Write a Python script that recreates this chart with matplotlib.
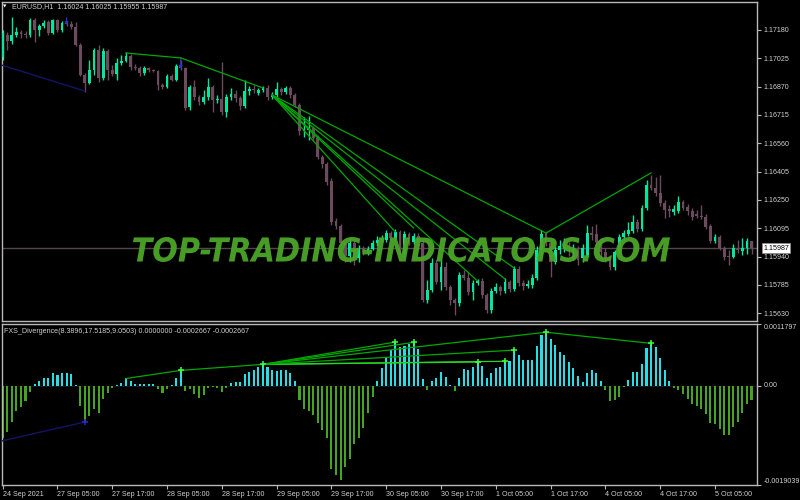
#!/usr/bin/env python3
"""
EURUSD H1 candles with the FXS_Divergence histogram underneath,
drawn in the black MetaTrader look.
"""

import numpy as np
import matplotlib
matplotlib.use("Agg")
import matplotlib.pyplot as plt
from matplotlib.textpath import TextPath
from matplotlib.patches import PathPatch
from matplotlib.font_manager import FontProperties
from matplotlib.transforms import Affine2D, blended_transform_factory


# ---- price data (H1 bars, oldest first) ----
OPEN = [
    1.17032, 1.17153, 1.17120, 1.17153, 1.17169, 1.17158, 1.17153, 1.17235, 1.17180, 1.17202,
    1.17224, 1.17163, 1.17235, 1.17180, 1.17218, 1.17213, 1.17196, 1.17098, 1.16934, 1.16890,
    1.16961, 1.17070, 1.16917, 1.17065, 1.16961, 1.16939, 1.16999, 1.17010, 1.17038, 1.16978,
    1.16972, 1.16945, 1.16972, 1.16961, 1.16956, 1.16879, 1.16868, 1.16928, 1.16906, 1.16983,
    1.16972, 1.16758, 1.16868, 1.16813, 1.16786, 1.16813, 1.16868, 1.16797, 1.16802, 1.16731,
    1.16813, 1.16830, 1.16808, 1.16764, 1.16846, 1.16857, 1.16835, 1.16852, 1.16863, 1.16813,
    1.16824, 1.16857, 1.16841, 1.16863, 1.16824, 1.16769, 1.16628, 1.16633, 1.16644, 1.16589,
    1.16485, 1.16447, 1.16354, 1.16135, 1.16108, 1.16015, 1.15944, 1.16015, 1.15933, 1.15987,
    1.15960, 1.15982, 1.16015, 1.16031, 1.16031, 1.16069, 1.16031, 1.16075, 1.15955, 1.16064,
    1.16020, 1.16053, 1.16015, 1.15703, 1.15758, 1.15905, 1.15801, 1.15884, 1.15774, 1.15703,
    1.15687, 1.15840, 1.15823, 1.15747, 1.15796, 1.15807, 1.15730, 1.15649, 1.15752, 1.15774,
    1.15752, 1.15801, 1.15763, 1.15873, 1.15796, 1.15779, 1.15785, 1.15823, 1.15976, 1.16064,
    1.16015, 1.15911, 1.15976, 1.15987, 1.16004, 1.15976, 1.15987, 1.15933, 1.15938, 1.16069,
    1.16064, 1.16020, 1.15965, 1.15933, 1.15884, 1.15965, 1.16047, 1.16064, 1.16080, 1.16130,
    1.16091, 1.16206, 1.16332, 1.16315, 1.16288, 1.16234, 1.16201, 1.16184, 1.16190, 1.16239,
    1.16212, 1.16190, 1.16173, 1.16162, 1.16157, 1.16108, 1.16025, 1.16047, 1.15987, 1.15944,
    1.15938, 1.15982, 1.15971, 1.15987, 1.16024,
]
HIGH = [
    1.17180, 1.17169, 1.17251, 1.17196, 1.17180, 1.17174, 1.17246, 1.17246, 1.17213, 1.17235,
    1.17235, 1.17240, 1.17240, 1.17229, 1.17229, 1.17229, 1.17224, 1.17109, 1.16945, 1.17016,
    1.17081, 1.17098, 1.17081, 1.17076, 1.16988, 1.17027, 1.17043, 1.17060, 1.17049, 1.16994,
    1.16983, 1.16983, 1.16978, 1.16967, 1.16961, 1.16890, 1.16939, 1.16939, 1.16994, 1.17016,
    1.16978, 1.16879, 1.16906, 1.16824, 1.16852, 1.16917, 1.16879, 1.16824, 1.17005, 1.16830,
    1.16863, 1.16852, 1.16819, 1.16906, 1.16874, 1.16879, 1.16863, 1.16874, 1.16879, 1.16841,
    1.16895, 1.16868, 1.16874, 1.16874, 1.16835, 1.16780, 1.16704, 1.16709, 1.16655, 1.16606,
    1.16496, 1.16458, 1.16370, 1.16151, 1.16119, 1.16025, 1.16042, 1.16031, 1.16004, 1.15998,
    1.15998, 1.16031, 1.16053, 1.16058, 1.16086, 1.16080, 1.16091, 1.16086, 1.16080, 1.16075,
    1.16069, 1.16069, 1.16031, 1.15812, 1.15933, 1.15922, 1.15922, 1.15911, 1.15785, 1.15714,
    1.15856, 1.15867, 1.15856, 1.15812, 1.15818, 1.15823, 1.15741, 1.15768, 1.15796, 1.15785,
    1.15823, 1.15812, 1.15889, 1.15889, 1.15812, 1.15812, 1.15845, 1.15998, 1.16086, 1.16080,
    1.16031, 1.15998, 1.16031, 1.16042, 1.16020, 1.16009, 1.15998, 1.16009, 1.16113, 1.16108,
    1.16119, 1.16042, 1.15987, 1.15949, 1.15976, 1.16064, 1.16086, 1.16130, 1.16168, 1.16146,
    1.16223, 1.16359, 1.16387, 1.16376, 1.16387, 1.16250, 1.16223, 1.16223, 1.16272, 1.16250,
    1.16228, 1.16206, 1.16195, 1.16223, 1.16173, 1.16119, 1.16064, 1.16058, 1.15998, 1.15976,
    1.16009, 1.16031, 1.16042, 1.16042, 1.16025,
]
LOW = [
    1.17016, 1.17070, 1.17103, 1.17142, 1.17136, 1.17136, 1.17142, 1.17114, 1.17147, 1.17191,
    1.17153, 1.17158, 1.17169, 1.17169, 1.17202, 1.17185, 1.17092, 1.16928, 1.16841, 1.16885,
    1.16934, 1.16895, 1.16906, 1.16906, 1.16928, 1.16906, 1.16988, 1.17005, 1.16961, 1.16961,
    1.16928, 1.16934, 1.16950, 1.16950, 1.16852, 1.16857, 1.16863, 1.16901, 1.16901, 1.16961,
    1.16742, 1.16742, 1.16797, 1.16769, 1.16775, 1.16797, 1.16731, 1.16780, 1.16715, 1.16704,
    1.16797, 1.16786, 1.16742, 1.16753, 1.16824, 1.16835, 1.16824, 1.16841, 1.16797, 1.16802,
    1.16813, 1.16824, 1.16830, 1.16808, 1.16758, 1.16606, 1.16595, 1.16578, 1.16573, 1.16474,
    1.16425, 1.16332, 1.16113, 1.16091, 1.16004, 1.15911, 1.15911, 1.15894, 1.15911, 1.15949,
    1.15949, 1.15976, 1.15998, 1.16020, 1.16020, 1.16031, 1.16020, 1.15944, 1.15938, 1.16004,
    1.16009, 1.15998, 1.15692, 1.15687, 1.15747, 1.15790, 1.15758, 1.15758, 1.15676, 1.15621,
    1.15671, 1.15812, 1.15730, 1.15703, 1.15785, 1.15714, 1.15632, 1.15632, 1.15741, 1.15730,
    1.15741, 1.15747, 1.15752, 1.15779, 1.15758, 1.15768, 1.15768, 1.15812, 1.15949, 1.15998,
    1.15829, 1.15900, 1.15955, 1.15965, 1.15944, 1.15922, 1.15894, 1.15911, 1.15927, 1.16031,
    1.15998, 1.15933, 1.15911, 1.15867, 1.15867, 1.15955, 1.16031, 1.16053, 1.16069, 1.16075,
    1.16080, 1.16195, 1.16304, 1.16272, 1.16217, 1.16151, 1.16157, 1.16168, 1.16179, 1.16195,
    1.16168, 1.16140, 1.16151, 1.16146, 1.16091, 1.16015, 1.16015, 1.15976, 1.15922, 1.15894,
    1.15933, 1.15960, 1.15949, 1.15955, 1.15955,
]
CLOSE = [
    1.17163, 1.17120, 1.17153, 1.17169, 1.17158, 1.17153, 1.17235, 1.17180, 1.17202, 1.17218,
    1.17163, 1.17235, 1.17180, 1.17218, 1.17213, 1.17196, 1.17098, 1.16934, 1.16890, 1.16961,
    1.17070, 1.16917, 1.17065, 1.16961, 1.16939, 1.16999, 1.17010, 1.17038, 1.16978, 1.16972,
    1.16945, 1.16972, 1.16961, 1.16956, 1.16879, 1.16868, 1.16928, 1.16906, 1.16983, 1.16972,
    1.16753, 1.16868, 1.16813, 1.16786, 1.16813, 1.16868, 1.16797, 1.16802, 1.16731, 1.16813,
    1.16830, 1.16808, 1.16764, 1.16846, 1.16857, 1.16852, 1.16852, 1.16863, 1.16813, 1.16824,
    1.16857, 1.16841, 1.16863, 1.16824, 1.16769, 1.16628, 1.16639, 1.16644, 1.16589, 1.16485,
    1.16447, 1.16348, 1.16130, 1.16108, 1.16015, 1.15944, 1.16015, 1.15933, 1.15987, 1.15965,
    1.15982, 1.16015, 1.16031, 1.16042, 1.16069, 1.16042, 1.16075, 1.15955, 1.16064, 1.16020,
    1.16053, 1.16015, 1.15703, 1.15758, 1.15905, 1.15801, 1.15884, 1.15774, 1.15703, 1.15687,
    1.15840, 1.15823, 1.15747, 1.15796, 1.15807, 1.15730, 1.15649, 1.15752, 1.15774, 1.15752,
    1.15801, 1.15763, 1.15873, 1.15796, 1.15779, 1.15790, 1.15823, 1.15976, 1.16064, 1.16015,
    1.15911, 1.15976, 1.15998, 1.16004, 1.15976, 1.15987, 1.15922, 1.15987, 1.16069, 1.16058,
    1.16020, 1.15965, 1.15933, 1.15884, 1.15965, 1.16047, 1.16069, 1.16086, 1.16130, 1.16091,
    1.16206, 1.16332, 1.16315, 1.16288, 1.16234, 1.16195, 1.16190, 1.16201, 1.16239, 1.16206,
    1.16190, 1.16157, 1.16162, 1.16157, 1.16102, 1.16025, 1.16047, 1.15987, 1.15938, 1.15938,
    1.15987, 1.15976, 1.15987, 1.16025, 1.15987,
]

# ---- FXS_Divergence histogram, one value per bar ----
HIST = [
    -0.001003, -0.000892, -0.000698, -0.000485, -0.000407, -0.000291, -0.000116, 0.000039, 0.000097, 0.000155,
    0.000136, 0.000233, 0.000194, 0.000233, 0.000233, 0.000213, 0.000010, -0.000388, -0.000679, -0.000582,
    -0.000446, -0.000524, -0.000252, -0.000136, -0.000039, 0.000010, 0.000058, 0.000136, 0.000097, 0.000039,
    0.000039, 0.000029, 0.000029, 0.000029, -0.000058, -0.000136, -0.000058, 0.000019, 0.000155, 0.000291,
    -0.000097, -0.000058, -0.000155, -0.000233, -0.000175, -0.000039, -0.000019, -0.000039, -0.000116, -0.000039,
    0.000058, 0.000078, 0.000078, 0.000213, 0.000252, 0.000291, 0.000349, 0.000407, 0.000349, 0.000291,
    0.000272, 0.000291, 0.000291, 0.000233, 0.000097, -0.000272, -0.000446, -0.000485, -0.000563, -0.000718,
    -0.000854, -0.001009, -0.001591, -0.001707, -0.001804, -0.001552, -0.001397, -0.001125, -0.001009, -0.000815,
    -0.000524, -0.000213, 0.000097, 0.000330, 0.000543, 0.000679, 0.000834, 0.000737, 0.000762, 0.000790,
    0.000828, 0.000698, 0.000130, -0.000083, 0.000097, 0.000142, 0.000258, 0.000161, 0.000010, -0.000111,
    0.000149, 0.000310, 0.000291, 0.000355, 0.000452, 0.000369, 0.000155, 0.000246, 0.000336, 0.000355,
    0.000466, 0.000466, 0.000679, 0.000582, 0.000499, 0.000485, 0.000499, 0.000757, 0.000970, 0.001022,
    0.000892, 0.000776, 0.000634, 0.000582, 0.000452, 0.000336, 0.000180, 0.000078, 0.000239, 0.000305,
    0.000239, 0.000083, -0.000078, -0.000291, -0.000277, -0.000213, -0.000019, 0.000116, 0.000258, 0.000258,
    0.000421, 0.000712, 0.000809, 0.000731, 0.000530, 0.000305, 0.000097, -0.000045, -0.000083, -0.000161,
    -0.000258, -0.000355, -0.000388, -0.000452, -0.000549, -0.000724, -0.000743, -0.000840, -0.000937, -0.000937,
    -0.000795, -0.000693, -0.000518, -0.000355, -0.0002667,
]

# divergence lines on the price chart: (from bar, to bar, from price, to price)
MAIN_LINK_FROM = [27, 39, 59, 59, 59, 59, 59, 59, 119]
MAIN_LINK_TO = [39, 57, 86, 90, 104, 110, 112, 119, 142]
MAIN_LINK_P0 = [1.17054, 1.17027, 1.16824, 1.16824, 1.16824, 1.16824, 1.16824, 1.16824, 1.16069]
MAIN_LINK_P1 = [1.17027, 1.16863, 1.16075, 1.16097, 1.15807, 1.15818, 1.15878, 1.16069, 1.16398]

# divergence lines on the histogram join the bar tops
SUB_LINK_FROM = [27, 39, 57, 57, 57, 57, 57, 57, 119]
SUB_LINK_TO = [39, 57, 86, 90, 104, 110, 112, 119, 142]
SUB_MARK_BARS = [39, 57, 86, 90, 104, 110, 112, 119, 142]

# the old bullish divergence (blue), starts off the left edge
BLUE_BARS = [-1, 18]
BLUE_PRICE = [1.16994, 1.16846]
BLUE_HIST = [-0.001075, -0.000698]

# blue down arrows on the price chart: bar, top price, tip price
ARROW_BARS = [14, 39]
ARROW_TOP = [1.17246, 1.17021]
ARROW_TIP = [1.17207, 1.16967]

CUR_PRICE = 1.15987
PRICE_TICKS = [1.17180, 1.17025, 1.16870, 1.16715, 1.16560, 1.16405,
               1.16250, 1.16095, 1.15940, 1.15785, 1.15630]
SUB_MAX = 0.0011797
SUB_MIN = -0.0019039
TIME_TICK_BARS = [0, 12, 24, 36, 48, 60, 72, 84, 96, 108, 120, 132, 144, 156]
TIME_LABELS = ["24 Sep 2021", "27 Sep 05:00", "27 Sep 17:00", "28 Sep 05:00",
               "28 Sep 17:00", "29 Sep 05:00", "29 Sep 17:00", "30 Sep 05:00",
               "30 Sep 17:00", "1 Oct 05:00", "1 Oct 17:00", "4 Oct 05:00",
               "4 Oct 17:00", "5 Oct 05:00"]

TITLE = "EURUSD,H1  1.16024 1.16025 1.15955 1.15987"
SUB_TITLE = "FXS_Divergence(8.3896,17.5185,9.0503) 0.0000000 -0.0002667 -0.0002667"
WATERMARK = "TOP-TRADING-INDICATORS.COM"

# colours
BULL = "#00e8a0"
BEAR = "#6b4b5d"
HIST_UP = "#27dde6"
HIST_DN = "#47a41f"
DIV_GREEN = "#00a800"
DIV_BRIGHT = "#22d622"
MARK = "#3cff3c"
NAVY = "#141466"
ARROW_BLUE = "#2233cc"
FRAME = "#b8b8b8"
TXT = "#d0d0d0"
WM_GREEN = "#4ba527"

W, H = 800, 500
FS = 5.1


def px_box(x0, y0, x1, y1):
    """Axes rectangle from pixel edges measured from the top-left corner."""
    return [x0 / W, 1 - y1 / H, (x1 - x0) / W, (y1 - y0) / H]


def style_frame(a):
    a.set_facecolor("black")
    for s in a.spines.values():
        s.set_color(FRAME)
        s.set_linewidth(1.0)


def main() -> None:
    plt.rcParams["font.family"] = ["Liberation Sans", "DejaVu Sans"]

    o = np.array(OPEN)
    hi = np.array(HIGH)
    lo = np.array(LOW)
    c = np.array(CLOSE)
    hist = np.array(HIST)
    x = np.arange(len(c))
    up = c >= o

    fig = plt.figure(figsize=(W / 100, H / 100), dpi=100, facecolor="black")
    ax = fig.add_axes(px_box(2, 2, 757, 321))
    axs = fig.add_axes(px_box(2, 324, 757, 485))
    for a in (ax, axs):
        style_frame(a)
        a.set_xlim(-0.15, 165.2)

    # ---- price chart ----
    ax.axhline(CUR_PRICE, color="#55464e", lw=1.0, zorder=1)
    ax.vlines(x, lo, hi, colors=np.where(up, BULL, BEAR), lw=1.0, zorder=2)
    ax.bar(x, np.maximum(np.abs(c - o), 0.000025), bottom=np.minimum(o, c),
           width=0.62, color=np.where(up, BULL, BEAR), linewidth=0, zorder=3)

    for b0, b1, p0, p1 in zip(MAIN_LINK_FROM, MAIN_LINK_TO, MAIN_LINK_P0, MAIN_LINK_P1):
        ax.plot([b0, b1], [p0, p1], color=DIV_GREEN, lw=0.9, zorder=4)
    ax.plot(BLUE_BARS, BLUE_PRICE, color=NAVY, lw=1.0, zorder=4)
    for b, top, tip in zip(ARROW_BARS, ARROW_TOP, ARROW_TIP):
        ax.annotate("", xy=(b, tip), xytext=(b, top),
                    arrowprops=dict(arrowstyle="-|>", color=ARROW_BLUE, lw=0.9,
                                    mutation_scale=4, shrinkA=0, shrinkB=0), zorder=5)

    ax.set_ylim(1.15588, 1.17333)
    ax.yaxis.tick_right()
    ax.set_yticks(PRICE_TICKS)
    ax.set_yticklabels([f"{p:.5f}" for p in PRICE_TICKS])
    ax.tick_params(axis="y", colors=FRAME, labelcolor=TXT, labelsize=FS,
                   length=3, width=0.8, direction="out", pad=2)
    ax.tick_params(axis="x", bottom=False, labelbottom=False)

    tr = blended_transform_factory(ax.transAxes, ax.transData)
    ax.text(1.008, CUR_PRICE, f"{CUR_PRICE:.5f}", transform=tr, color="black",
            fontsize=FS, va="center", ha="left", clip_on=False,
            bbox=dict(boxstyle="square,pad=0.18", fc="white", ec="#909090", lw=0.5))

    # ---- histogram window ----
    axs.axhline(0, color="#202020", lw=0.5, zorder=0)
    axs.bar(x, hist, width=0.45, color=np.where(hist >= 0, HIST_UP, HIST_DN),
            linewidth=0, zorder=2)
    for k, (b0, b1) in enumerate(zip(SUB_LINK_FROM, SUB_LINK_TO)):
        col = DIV_BRIGHT if b1 in (104, 110) else DIV_GREEN
        axs.plot([b0, b1], [hist[b0], hist[b1]], color=col, lw=0.9, zorder=3)
    axs.plot(SUB_MARK_BARS, hist[SUB_MARK_BARS], "+", color=MARK, ms=5, mew=1.1, zorder=4)
    axs.plot(BLUE_BARS, BLUE_HIST, color=NAVY, lw=1.0, zorder=3)
    axs.plot(BLUE_BARS[1], BLUE_HIST[1], "+", color="#2a2acc", ms=5, mew=1.1, zorder=4)

    axs.set_ylim(SUB_MIN, SUB_MAX)
    axs.yaxis.tick_right()
    axs.set_yticks([SUB_MAX, 0.0, SUB_MIN])
    axs.set_yticklabels([f"{SUB_MAX:.7f}", "0.00", f"{SUB_MIN:.7f}"])
    for lab, va in zip(axs.get_yticklabels(), ["top", "center", "bottom"]):
        lab.set_va(va)
    axs.tick_params(axis="y", colors=FRAME, labelcolor=TXT, labelsize=FS,
                    length=3, width=0.8, direction="out", pad=2)

    axs.set_xticks(TIME_TICK_BARS)
    axs.set_xticklabels(TIME_LABELS, ha="left")
    axs.tick_params(axis="x", colors=FRAME, labelcolor=TXT, labelsize=FS,
                    length=3, width=0.8, direction="out", pad=1.5)

    axs.text(0.003, 0.975, SUB_TITLE, transform=axs.transAxes, color=TXT,
             fontsize=FS, va="top", ha="left")

    # ---- titles ----
    fig.text(3 / W, 1 - 7 / H, "\u25bc", color="white", fontsize=3.2,
             va="center", ha="left", family="DejaVu Sans")
    fig.text(12 / W, 1 - 7 / H, TITLE, color=TXT, fontsize=FS, va="center", ha="left")

    # ---- watermark, stretched to its box on the chart ----
    fp = FontProperties(family="DejaVu Sans", weight="bold", style="italic")
    tp = TextPath((0, 0), WATERMARK, size=100, prop=fp)
    bb = tp.get_extents()
    x0, x1, ytop, ybot = 133, 670, 237, 262
    aff = (Affine2D().translate(-bb.x0, -bb.y0)
           .scale((x1 - x0) / bb.width, (ybot - ytop) / bb.height)
           .translate(x0, H - ybot))
    fig.add_artist(PathPatch(tp, transform=aff, fc=WM_GREEN, ec="none",
                             alpha=0.95, zorder=10))

    fig.savefig("out.png", dpi=100, facecolor="black")


if __name__ == "__main__":
    main()
